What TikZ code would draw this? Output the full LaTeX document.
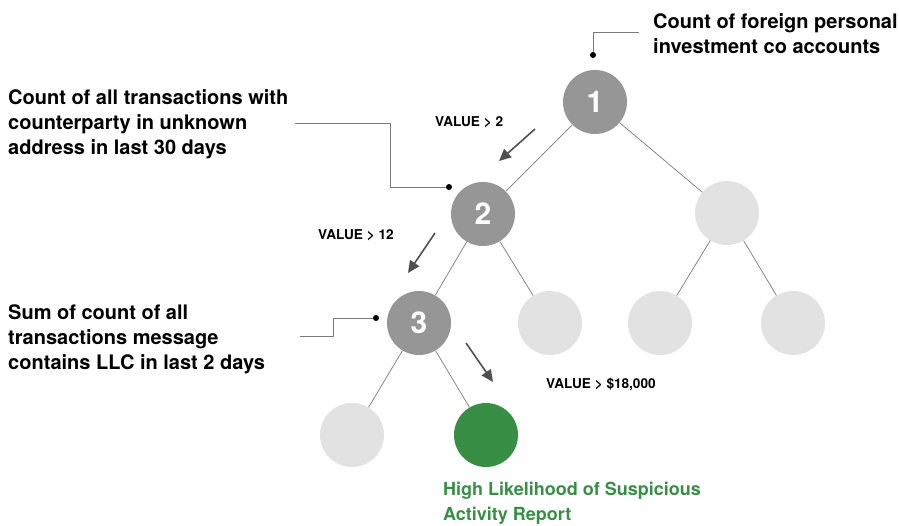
\documentclass[tikz,border=0pt]{standalone}
\usepackage{fontspec}
\setmainfont{TeX Gyre Heros}
\usetikzlibrary{arrows.meta}

\definecolor{splitgrey}{HTML}{969696}
\definecolor{leafgrey}{HTML}{E2E2E2}
\definecolor{edgegrey}{HTML}{7A7A7A}
\definecolor{arrowgrey}{HTML}{505050}
\definecolor{sargreen}{HTML}{388E45}

\begin{document}
\begin{tikzpicture}[x=1pt,y=-1pt,
    split/.style={circle,fill=splitgrey,minimum size=64pt,inner sep=0pt,
      text=white,font=\fontsize{30}{30}\selectfont\bfseries},
    leaf/.style={circle,fill=leafgrey,minimum size=64pt,inner sep=0pt},
    hit/.style={leaf,fill=sargreen},
    edge/.style={draw=edgegrey,line width=0.7pt},
    callout/.style={draw=edgegrey,line width=0.8pt},
    pin/.style={circle,fill=black,minimum size=6pt,inner sep=0pt},
    feature/.style={anchor=base west,inner sep=0pt,align=left,
      font=\fontsize{20}{25}\selectfont\bfseries},
    rule/.style={anchor=base west,inner sep=0pt,
      font=\fontsize{13.6}{15}\selectfont\bfseries},
    path/.style={draw=arrowgrey,line width=1.6pt,
      -{Triangle[length=12pt,width=11pt]}}]
    \useasboundingbox (0,0) rectangle (899,525);

    % tree
    \node[split] (n1) at (595,102) {1};
    \node[split] (n2) at (483,214) {2};
    \node[leaf]  (n1r) at (727,213) {};
    \node[split] (n3) at (419,323) {3};
    \node[leaf]  (n2r) at (550,323) {};
    \node[leaf]  (n1rl) at (660,323) {};
    \node[leaf]  (n1rr) at (793,323) {};
    \node[leaf]  (n3l) at (352,435) {};
    \node[hit]   (n3r) at (486,435) {};

    \draw[edge] (n1) -- (n2);
    \draw[edge] (n1) -- (n1r);
    \draw[edge] (n2) -- (n3);
    \draw[edge] (n2) -- (n2r);
    \draw[edge] (n1r) -- (n1rl);
    \draw[edge] (n1r) -- (n1rr);
    \draw[edge] (n3) -- (n3l);
    \draw[edge] (n3) -- (n3r);

    % features (anchored on the last line)
    \node[feature] (f1) at (653,53) {Count of foreign personal\\investment co accounts};
    \node[feature] (f2) at (8,154) {Count of all transactions with\\counterparty in unknown\\address in last 30 days};
    \node[feature] (f3) at (8,369) {Sum of count of all\\transactions message\\contains LLC in last 2 days};

    \node[pin] (p1) at (593,55) {};
    \node[pin] (p2) at (449,187) {};
    \node[pin] (p3) at (376,318) {};
    \coordinate (c1) at (639,32);
    \coordinate (c2) at (295,123);
    \coordinate (c3) at (300,336);

    \draw[callout] (c1) -| (p1);
    \draw[callout] (c2) -- (390,123) |- (p2);
    \draw[callout] (c3) -- (333,336) |- (p3);

    % split rules
    \node[rule] (r1) at (435,126) {VALUE > 2};
    \node[rule] (r2) at (318,239) {VALUE > 12};
    \node[rule] (r3) at (546,388) {VALUE > \$18,000};

    \coordinate (a1s) at (535,129);
    \coordinate (a1e) at (499,161);
    \coordinate (a2s) at (435,233);
    \coordinate (a2e) at (408,273);
    \coordinate (a3s) at (466,343);
    \coordinate (a3e) at (493,382);
    \draw[path] (a1s) -- (a1e);
    \draw[path] (a2s) -- (a2e);
    \draw[path] (a3s) -- (a3e);

    % outcome
    \node[feature,text=sargreen,font=\fontsize{18}{25}\selectfont\bfseries] (out) at (443,520) {High Likelihood of Suspicious\\Activity Report};
\end{tikzpicture}
\end{document}
